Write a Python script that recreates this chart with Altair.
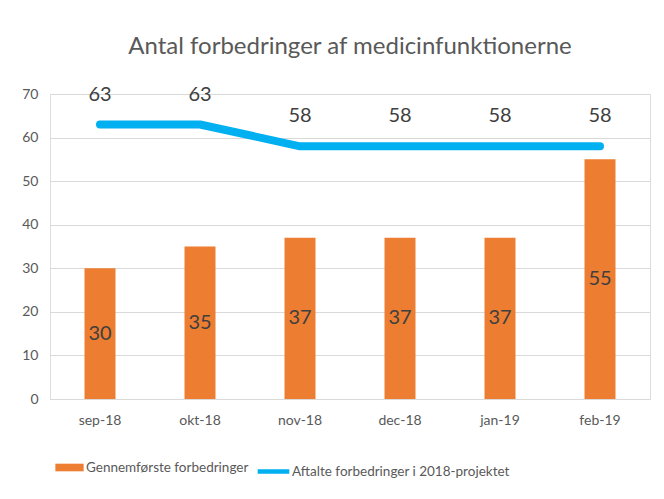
import altair as alt
import pandas as pd

months = ["sep-18", "okt-18", "nov-18", "dec-18", "jan-19", "feb-19"]
done = [30, 35, 37, 37, 37, 55]
agreed = [63, 63, 58, 58, 58, 58]
bar_name = "Gennemførste forbedringer"
line_name = "Aftalte forbedringer i 2018-projektet"

df = pd.DataFrame({"month": months, "done": done, "agreed": agreed,
                   "bar_series": bar_name, "line_series": line_name})

FONT = "Lato"
x = alt.X("month:N", sort=months, title=None,
          scale=alt.Scale(paddingInner=0.0, paddingOuter=0.0),
          axis=alt.Axis(labelAngle=0, labelFontSize=14, labelColor="#595959",
                        labelFont=FONT, domainColor="#d9d9d9", ticks=False,
                        labelPadding=14, grid=False))

y_scale = alt.Scale(domain=[0, 70])

bars = alt.Chart(df).mark_bar(size=31).encode(
    x=x,
    y=alt.Y("done:Q", scale=y_scale, title=None,
            axis=alt.Axis(values=[0, 10, 20, 30, 40, 50, 60, 70], domain=False, ticks=False,
                          labelFontSize=14, labelColor="#595959", labelFont=FONT,
                          labelPadding=12, gridColor="#d9d9d9", gridWidth=1.2)),
    fill=alt.Fill("bar_series:N",
                  scale=alt.Scale(domain=[bar_name], range=["#ED7D31"]),
                  legend=alt.Legend(title=None, orient="none", legendX=5, legendY=359,
                                    symbolType="M-1,-0.27L1,-0.27L1,0.27L-1,0.27Z",
                                    symbolSize=800, symbolStrokeWidth=0,
                                    labelFontSize=13.5, labelColor="#595959", labelLimit=0,
                                    labelFont=FONT, labelOffset=2)),
)

bar_labels = alt.Chart(df).mark_text(fontSize=20, color="#404040", font=FONT).encode(
    x=alt.X("month:N", sort=months),
    y=alt.Y("mid:Q", scale=y_scale),
    text="done:Q",
).transform_calculate(mid="datum.done / 2")

line = alt.Chart(df).mark_line(strokeWidth=8, strokeCap="round", strokeJoin="round").encode(
    x=alt.X("month:N", sort=months),
    y=alt.Y("agreed:Q", scale=y_scale),
    stroke=alt.Stroke("line_series:N",
                      scale=alt.Scale(domain=[line_name], range=["#00B0F0"]),
                      legend=alt.Legend(title=None, orient="none", legendX=205, legendY=359,
                                        symbolType="stroke", symbolSize=1000,
                                        symbolStrokeWidth=4.5,
                                        labelFontSize=13.5, labelColor="#595959", labelLimit=0,
                                        labelFont=FONT, labelOffset=0)),
)

line_labels = alt.Chart(df).mark_text(fontSize=20, color="#404040", font=FONT, dy=-30).encode(
    x=alt.X("month:N", sort=months),
    y=alt.Y("agreed:Q", scale=y_scale),
    text="agreed:Q",
)

chart = alt.layer(bars, bar_labels, line, line_labels).properties(
    width=600, height=305,
    title=alt.Title("Antal forbedringer af medicinfunktionerne", fontSize=24,
                    color="#595959", font=FONT, fontWeight="normal", offset=26),
    autosize=alt.AutoSizeParams(type="none"),
    padding={"left": 42, "top": 86, "right": 6, "bottom": 92},
).configure_view(stroke=None).configure(background="white")

chart.save("out.html", embed_options={"renderer": "svg", "actions": False})
